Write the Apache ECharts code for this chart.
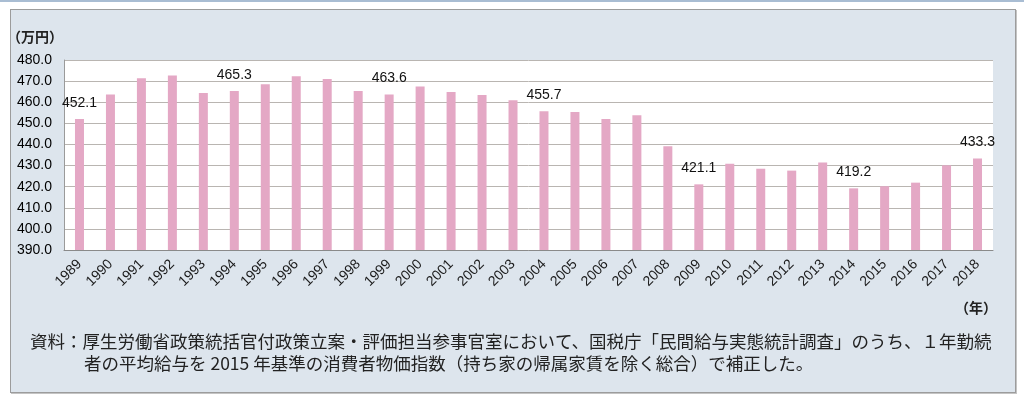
<!DOCTYPE html>
<html><head><meta charset="utf-8">
<script src="https://cdn.jsdelivr.net/npm/echarts@6/dist/echarts.min.js"></script>
<style>
html,body{margin:0;padding:0;background:#fff;}
#topline{position:absolute;left:0;top:0;width:1024px;height:2px;background:#a9bdd3;}
#frame{position:absolute;left:10px;top:9px;width:1004px;height:382px;background:#dde5ed;border:1px solid #9c9c9c;box-shadow:1px 1px 0 #c4c4c4;}
#chart{position:absolute;left:0;top:0;width:1024px;height:402px;}
</style></head>
<body><div id="topline"></div><div id="frame"></div><div id="chart"></div>
<script>
const years = ['1989','1990','1991','1992','1993','1994','1995','1996','1997','1998','1999','2000','2001','2002','2003','2004','2005','2006','2007','2008','2009','2010','2011','2012','2013','2014','2015','2016','2017','2018'];
const wages = [452.1,463.7,471.3,472.6,464.4,465.3,468.5,472.3,471.0,465.3,463.6,467.5,464.8,463.4,460.9,455.7,455.4,452.1,453.8,439.1,421.1,430.9,428.5,427.6,431.5,419.2,420.2,421.9,430.1,433.3];
const labeledYears = ['1989','1994','1999','2004','2009','2014','2018'];
const yTicks = {min:390, max:480, interval:10};
const unitLabel = '（万円）';
const xUnitLabel = '（年）';
const noteLine1 = '資料：厚生労働省政策統括官付政策立案・評価担当参事官室において、国税庁「民間給与実態統計調査」のうち、１年勤続';
const noteLine2 = '者の平均給与を 2015 年基準の消費者物価指数（持ち家の帰属家賃を除く総合）で補正した。';

const numFont = '"Liberation Sans", Arial, sans-serif';
const jpFont = '"Noto Sans CJK JP", sans-serif';

const seriesData = wages.map((v,i)=>{
  const show = labeledYears.includes(years[i]);
  return {value:v, label:{show:show}};
});

const chart = echarts.init(document.getElementById('chart'));
chart.setOption({
  animation:false,
  backgroundColor:'transparent',
  grid:{left:64,right:31,top:60,bottom:152,show:true,backgroundColor:'#ffffff',borderWidth:0},
  xAxis:{type:'category',data:years,
    axisLine:{lineStyle:{color:'#8a8a8a',width:1}},
    axisTick:{show:false},
    axisLabel:{rotate:45,margin:12,fontSize:14,fontFamily:numFont,color:'#1a1a1a',interval:0}},
  yAxis:{type:'value',min:yTicks.min,max:yTicks.max,interval:yTicks.interval,
    axisLine:{show:true,lineStyle:{color:'#9a9a9a'}},
    axisTick:{show:false},
    splitLine:{lineStyle:{color:'#b9b5b1',width:1}},
    axisLabel:{margin:12,fontSize:14,fontFamily:numFont,color:'#000',formatter:v=>v.toFixed(1)}},
  series:[{type:'bar',data:seriesData,barWidth:9,
    itemStyle:{color:'#e4a8c5'},
    label:{position:'top',distance:9,fontSize:14,fontFamily:numFont,color:'#111',formatter:p=>p.value.toFixed(1)}}],
  graphic:[
    {type:'text',left:7,top:30,style:{text:unitLabel,font:'bold 14px '+jpFont,fill:'#222'}},
    {type:'text',left:955,top:301,style:{text:xUnitLabel,font:'bold 14px '+jpFont,fill:'#222'}},
    {type:'text',left:30,top:333,style:{text:noteLine1,font:'17.5px '+jpFont,fill:'#222'}},
    {type:'text',left:84,top:355,style:{text:noteLine2,font:'17.5px '+jpFont,fill:'#222'}}
  ]
});
</script></body></html>
